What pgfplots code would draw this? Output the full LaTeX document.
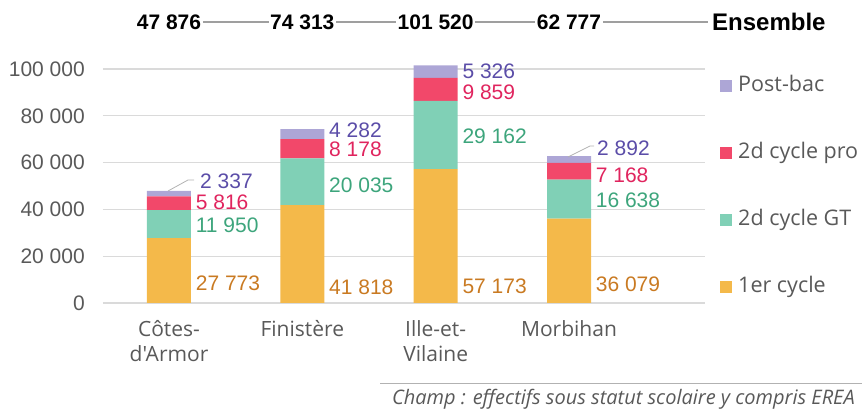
\documentclass[border=0pt]{standalone}
\usepackage{fontspec}
\setmainfont{Liberation Sans}
\newfontfamily\mar{Open Sans}
\usepackage{pgfplots}
\pgfplotsset{compat=1.18}
\definecolor{cPost}{HTML}{ADA6D6}
\definecolor{cPro}{HTML}{F2486A}
\definecolor{cGT}{HTML}{80D0B6}
\definecolor{cOr}{HTML}{F4B94A}
\definecolor{tPost}{HTML}{5B4DA8}
\definecolor{tPro}{HTML}{E0245E}
\definecolor{tGT}{HTML}{3DA57C}
\definecolor{tOr}{HTML}{C97A22}
\definecolor{tGray}{HTML}{595959}
\definecolor{gridc}{HTML}{DADADA}
\newcommand{\lab}{\fontsize{21}{25}\selectfont}
\begin{document}
\begin{tikzpicture}
\useasboundingbox (-103pt,-108pt) rectangle (759pt,303pt);
\pgfplotsset{common/.style={scale only axis, width=602pt, height=234pt,
  xmin=-0.495, xmax=4.02, ymin=0, ymax=100000, clip=false}}
\begin{axis}[common, ybar stacked, bar width=44pt,
  ytick={0,20000,40000,60000,80000,100000},
  yticklabels={0,20 000,40 000,60 000,80 000,100 000},
  scaled y ticks=false,
  xtick={0,1,2,3},
  xticklabels={{C\^otes-\\d'Armor},{Finist\`ere},{Ille-et-\\Vilaine},{Morbihan}},
  ymajorgrids, grid style={color=gridc, line width=1.3pt},
  axis line style={draw=none}, major tick length=0pt,
  yticklabel style={font=\lab, text=tGray, inner sep=0pt, anchor=east, xshift=-18pt},
  xticklabel style={font=\mar\fontsize{21}{25}\selectfont, text=tGray, align=center, inner sep=0pt, anchor=north, yshift=-17pt},
  reverse legend,
  legend cell align=left,
  legend style={draw=none, fill=none, at={(1.02,0.9786)}, anchor=north west,
    row sep=47pt, column sep=6pt,
    nodes={font=\mar\fontsize{21.5}{25}\selectfont, text=tGray, inner sep=0pt, text height=15pt, text depth=5pt}},
]
\addplot[fill=cOr, draw=none, legend image code/.code={\fill[cOr] (0pt,-6pt) rectangle (12pt,6pt);}] coordinates {(0,27773) (1,41818) (2,57173) (3,36079)};
\addlegendentry{1er cycle}
\addplot[fill=cGT, draw=none, legend image code/.code={\fill[cGT] (0pt,-6pt) rectangle (12pt,6pt);}] coordinates {(0,11950) (1,20035) (2,29162) (3,16638)};
\addlegendentry{2d cycle GT}
\addplot[fill=cPro, draw=none, legend image code/.code={\fill[cPro] (0pt,-6pt) rectangle (12pt,6pt);}] coordinates {(0,5816) (1,8178) (2,9859) (3,7168)};
\addlegendentry{2d cycle pro}
\addplot[fill=cPost, draw=none, legend image code/.code={\fill[cPost] (0pt,-6pt) rectangle (12pt,6pt);}] coordinates {(0,2337) (1,4282) (2,5326) (3,2892)};
\addlegendentry{Post-bac}
\end{axis}
\begin{axis}[common, hide axis]
% data labels
\addplot[draw=none, mark=none, nodes near coords, point meta=explicit symbolic,
  nodes near coords style={anchor=west, inner sep=0pt, text=tOr, font=\lab}]
  coordinates {(0.2,8547)[27 773] (1.2,6838)[41 818] (2.2,6966)[57 173] (3.2,8120)[36 079]};
\addplot[draw=none, mark=none, nodes near coords, point meta=explicit symbolic,
  nodes near coords style={anchor=west, inner sep=0pt, text=tGT, font=\lab}]
  coordinates {(0.2,33333)[11 950] (1.2,50427)[20 035] (2.2,71368)[29 162] (3.2,43718)[16 638]};
\addplot[draw=none, mark=none, nodes near coords, point meta=explicit symbolic,
  nodes near coords style={anchor=west, inner sep=0pt, text=tPro, font=\lab}]
  coordinates {(0.2,43162)[5 816] (1.2,65500)[8 178] (2.2,89872)[9 859] (3.2,54701)[7 168]};
\addplot[draw=none, mark=none, nodes near coords, point meta=explicit symbolic,
  nodes near coords style={anchor=west, inner sep=0pt, text=tPost, font=\lab}]
  coordinates {(0.2325,52137)[2 337] (1.2,73700)[4 282] (2.2,99145)[5 326] (3.21,66285)[2 892]};
% leader lines
\addplot[color=gray!60, line width=0.8pt, mark=none] coordinates {(-0.0075,47860) (0.1425,52560) (0.1875,52560)};
\addplot[color=gray!60, line width=0.8pt, mark=none] coordinates {(2.9925,62393) (3.1575,67094) (3.1875,67094)};
% totals
\addplot[color=gray!75, line width=1.3pt, mark=none] coordinates {(0,120085) (4.0425,120085)};
\addplot[draw=none, mark=none, nodes near coords, point meta=explicit symbolic,
  nodes near coords style={anchor=center, fill=white, inner xsep=1.5pt, inner ysep=1pt, text=black, font=\bfseries\lab}]
  coordinates {(0,120085)[47 876] (1,120085)[74 313] (2,120085)[101 520] (3,120085)[62 777]};
\node[anchor=west, inner sep=0pt, font=\bfseries\fontsize{24}{28}\selectfont] at (axis cs:4.0725,120085) {Ensemble};
\end{axis}
\draw[gray!60, line width=0.8pt] (277pt,-80pt) -- (759pt,-80pt);
\node[anchor=east, inner sep=0pt, text=tGray, font=\mar\itshape\fontsize{20}{24}\selectfont] at (752pt,-96pt) {Champ : effectifs sous statut scolaire y compris EREA};
\end{tikzpicture}
\end{document}
